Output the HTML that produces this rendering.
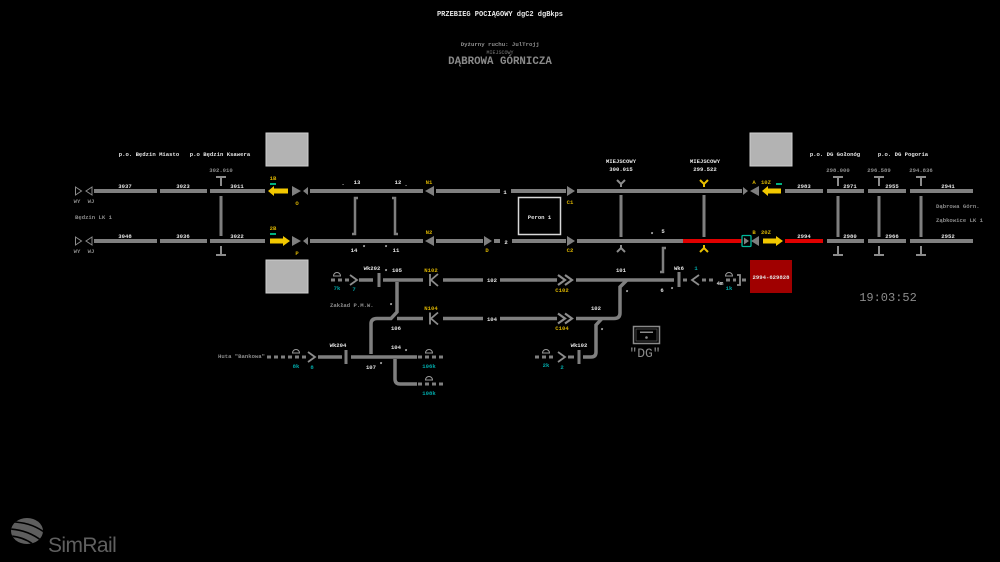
<!DOCTYPE html>
<html><head><meta charset="utf-8"><style>
html,body{margin:0;padding:0;background:#000;width:1000px;height:562px;overflow:hidden}
svg{display:block}
text{font-family:"Liberation Mono",monospace;font-weight:bold}
.w{fill:#e4e4e4;font-size:5.6px}
.g{fill:#8c8c8c;font-size:5.6px}
.y{fill:#d6b000;font-size:5.6px}
.t{fill:#00a8a8;font-size:5.6px}
</style></head><body>
<svg width="1000" height="562" viewBox="0 0 1000 562" xmlns="http://www.w3.org/2000/svg">
<rect width="1000" height="562" fill="#000"/>
<g text-anchor="middle">
<text x="500" y="16" fill="#e8e8e8" style="font-size:7px">PRZEBIEG POCIĄGOWY dgC2 dgBkps</text>
<text x="500" y="46" fill="#909090" style="font-size:5.7px">Dyżurny ruchu: JulTrojj</text>
<text x="500" y="54" fill="#7a7a7a" style="font-size:5px;font-weight:normal">MIEJSCOWY</text>
<text x="500" y="64" fill="#8a8a8a" style="font-size:10.8px">DĄBROWA GÓRNICZA</text>
</g>

<!-- gray boxes -->
<rect x="266" y="133" width="42" height="33" fill="#b3b3b3" stroke="#cfcfcf" stroke-width="1"/>
<rect x="266" y="260" width="42" height="33" fill="#b3b3b3" stroke="#cfcfcf" stroke-width="1"/>
<rect x="750" y="133" width="42" height="33" fill="#b3b3b3" stroke="#cfcfcf" stroke-width="1"/>
<rect x="750" y="260" width="42" height="33" fill="#a00000"/>
<text x="771" y="279" text-anchor="middle" class="w">2994-629828</text>

<g fill="#7f7f7f">
<rect x="94" y="189" width="63" height="4"/>
<rect x="160" y="189" width="47" height="4"/>
<rect x="210" y="189" width="55" height="4"/>
<rect x="310" y="189" width="113" height="4"/>
<rect x="436" y="189" width="64" height="4"/>
<rect x="511" y="189" width="55" height="4"/>
<rect x="577" y="189" width="165" height="4"/>
<rect x="785" y="189" width="38" height="4"/>
<rect x="827" y="189" width="37" height="4"/>
<rect x="868" y="189" width="38" height="4"/>
<rect x="910" y="189" width="63" height="4"/>
<rect x="94" y="239" width="63" height="4"/>
<rect x="160" y="239" width="47" height="4"/>
<rect x="210" y="239" width="55" height="4"/>
<rect x="310" y="239" width="113" height="4"/>
<rect x="436" y="239" width="47" height="4"/>
<rect x="494" y="239" width="6" height="4"/>
<rect x="512" y="239" width="54" height="4"/>
<rect x="577" y="239" width="106" height="4"/>
<rect x="827" y="239" width="37" height="4"/>
<rect x="868" y="239" width="38" height="4"/>
<rect x="910" y="239" width="63" height="4"/>
<polygon points="292,186 292,196 301,191"/>
<polygon points="308,187 308,195 303,191"/>
<polygon points="292,236 292,246 301,241"/>
<polygon points="308,237 308,245 303,241"/>
<polygon points="434,186 434,196 425,191"/>
<polygon points="434,236 434,246 425,241"/>
<polygon points="484,236 484,246 492,241"/>
<polygon points="567,186 567,196 575,191"/>
<polygon points="567,236 567,246 575,241"/>
<polygon points="743,187 743,195 748,191"/>
<polygon points="759,186 759,196 750,191"/>
<polygon points="744,237.5 744,244.5 749,241"/>
<polygon points="759,236 759,246 751,241"/>
<rect x="219.5" y="196" width="3" height="40"/>
<rect x="619.5" y="195" width="3" height="42"/>
<rect x="702.5" y="195" width="3" height="42"/>
<rect x="836.5" y="196" width="3" height="41"/>
<rect x="877.5" y="196" width="3" height="41"/>
<rect x="919.5" y="196" width="3" height="41"/>
</g>
<rect x="683" y="239" width="59" height="4" fill="#e00000"/>
<rect x="785" y="239" width="38" height="4" fill="#e00000"/>
<rect x="742" y="235.5" width="9" height="11" fill="none" stroke="#00b89a" stroke-width="1.3" rx="1"/>

<g fill="none" stroke="#8c8c8c" stroke-width="1">
<polygon points="75.5,187 75.5,195 81.5,191"/>
<polygon points="92,187 92,195 86,191"/>
<polygon points="75.5,237 75.5,245 81.5,241"/>
<polygon points="92,237 92,245 86,241"/>
</g>

<g stroke="#8c8c8c" stroke-width="2" fill="none">
<path d="M216,177 H226 M221,177 V186"/>
<path d="M216,255 H226 M221,246 V255"/>
<path d="M833,177 H843 M838,177 V186"/>
<path d="M874,177 H884 M879,177 V186"/>
<path d="M916,177 H926 M921,177 V186"/>
<path d="M833,255 H843 M838,246 V255"/>
<path d="M874,255 H884 M879,246 V255"/>
<path d="M916,255 H926 M921,246 V255"/>
<path d="M617,180 L621,184 L625,180 M621,184 V187"/>
<path d="M617,252 L621,248 L625,252 M621,248 V245"/>
</g>
<g stroke="#e8c000" stroke-width="2" fill="none">
<path d="M700,180 L704,184 L708,180 M704,184 V187"/>
<path d="M700,252 L704,248 L708,252 M704,248 V245"/>
</g>

<g stroke="#7f7f7f" stroke-width="2.5" fill="none">
<path d="M358,198 H355 V234 H352"/>
<path d="M392,198 H395 V234 H398"/>
<path d="M666,248 H663 V272 H660"/>
</g>

<g fill="#f2c800">
<polygon points="268,191 274,186 274,188.5 288,188.5 288,193.5 274,193.5 274,196"/>
<polygon points="270,238.5 283,238.5 283,236 290,241 283,246 283,243.5 270,243.5"/>
<polygon points="762,191 768,186 768,188.5 781,188.5 781,193.5 768,193.5 768,196"/>
<polygon points="763,238.5 776,238.5 776,236 783,241 776,246 776,243.5 763,243.5"/>
</g>
<g fill="#00b080">
<rect x="270" y="183" width="6" height="2"/>
<rect x="270" y="233" width="6" height="2"/>
<rect x="776" y="183" width="6" height="2"/>
</g>

<rect x="518.5" y="197.5" width="42" height="37" fill="none" stroke="#d8d8d8" stroke-width="1.5"/>
<text x="539.5" y="219" text-anchor="middle" class="w">Peron 1</text>

<g stroke="#7f7f7f" stroke-width="3.5" fill="none">
<path d="M383,280 H423"/>
<path d="M443,280 H483"/>
<path d="M500,280 H557"/>
<path d="M576,280 H674"/>
<path d="M397,282 V312 L391,318.5 H377 Q371,318.5 371,324 V354"/>
<path d="M397,318.5 H423"/>
<path d="M443,318.5 H483"/>
<path d="M500,318.5 H557"/>
<path d="M576,318.5 H614 Q620,318.5 620,313 V287 L627,280"/>
<path d="M583,357 H591 Q596,357 596,352 V325 L602,318.5"/>
<path d="M318,357 H342"/>
<path d="M351,357 H417"/>
<path d="M395,359 V379 Q395,384 400,384 H417"/>
<path d="M359,280 H373"/>
</g>
<g stroke="#7f7f7f" stroke-width="3" fill="none" stroke-dasharray="4,3">
<path d="M331,280 H349"/>
<path d="M267,357 H307"/>
<path d="M418,357 H444"/>
<path d="M418,384 H444"/>
<path d="M535,357 H556"/>
<path d="M683,280 H690"/>
<path d="M702,280 H716"/>
<path d="M726,280 H736"/>
<path d="M742,280 H746"/>
</g>
<g fill="#7f7f7f">
<rect x="377.5" y="273" width="3" height="14"/>
<rect x="344.5" y="350" width="3" height="14"/>
<rect x="577.5" y="350" width="3" height="14"/>
<rect x="677.5" y="272" width="3" height="15"/>
<rect x="568" y="355.5" width="6" height="3"/>
</g>
<g stroke="#8c8c8c" stroke-width="1.8" fill="none">
<path d="M350,275 L357,280 L350,285"/>
<path d="M308,352 L315,357 L308,362"/>
<path d="M558,352 L565,357 L558,362"/>
<path d="M699,275 L692,280 L699,285"/>
<path d="M430,274 V286 M438,274 L431,280 L438,286"/>
<path d="M430,312.5 V324.5 M438,312.5 L431,318.5 L438,324.5"/>
<path d="M558,275 L565,280 L558,285 M565,275 L572,280 L565,285" stroke-width="2.2"/>
<path d="M558,313.5 L565,318.5 L558,323.5 M565,313.5 L572,318.5 L565,323.5" stroke-width="2.2"/>
<path d="M737,275 H740 V285 H737"/>
</g>
<g stroke="#9a9a9a" stroke-width="1" fill="none">
<path d="M333.5,276 A3.5,3.5 0 0 1 340.5,276 Z"/>
<path d="M292.5,353 A3.5,3.5 0 0 1 299.5,353 Z"/>
<path d="M425.5,353 A3.5,3.5 0 0 1 432.5,353 Z"/>
<path d="M425.5,380 A3.5,3.5 0 0 1 432.5,380 Z"/>
<path d="M542.5,353 A3.5,3.5 0 0 1 549.5,353 Z"/>
<path d="M725.5,276 A3.5,3.5 0 0 1 732.5,276 Z"/>
</g>

<rect x="633.5" y="326.5" width="26" height="17" fill="none" stroke="#8a8a8a" stroke-width="1.5"/>
<rect x="636" y="329" width="21" height="12" fill="none" stroke="#555" stroke-width="0.8"/>
<rect x="640" y="331.5" width="13" height="1.5" fill="#8a8a8a"/>
<circle cx="646.5" cy="337.5" r="1.3" fill="#8a8a8a"/>
<text x="645" y="357" text-anchor="middle" fill="#8a8a8a" style="font-size:13px;font-weight:normal">"DG"</text>

<g text-anchor="middle">
<text x="149" y="156" class="w">p.o. Będzin Miasto</text>
<text x="220" y="156" class="w">p.o Będzin Ksawera</text>
<text x="221" y="172" class="g">302.010</text>
<text x="125" y="188" class="w">3037</text>
<text x="183" y="188" class="w">3023</text>
<text x="237" y="188" class="w">3011</text>
<text x="125" y="238" class="w">3048</text>
<text x="183" y="238" class="w">3036</text>
<text x="237" y="238" class="w">3022</text>
<text x="77" y="203" class="g">WY</text>
<text x="91" y="203" class="g">WJ</text>
<text x="77" y="253" class="g">WY</text>
<text x="91" y="253" class="g">WJ</text>
<text x="273" y="180" class="y">1B</text>
<text x="297" y="205" class="y">O</text>
<text x="273" y="230" class="y">2B</text>
<text x="297" y="255" class="y">P</text>

<text x="357" y="184" class="w">13</text>
<text x="343" y="185" class="w">.</text>
<text x="398" y="184" class="w">12</text>
<text x="406" y="186" class="w">.</text>
<text x="429" y="184" class="y">N1</text>
<text x="505" y="194" class="w">1</text>
<text x="570" y="204" class="y">C1</text>
<text x="429" y="234" class="y">N2</text>
<text x="354" y="252" class="w">14</text>
<text x="364" y="249" class="w">*</text>
<text x="386" y="249" class="w">*</text>
<text x="396" y="252" class="w">11</text>
<text x="487" y="252" class="y">D</text>
<text x="506" y="244" class="w">2</text>
<text x="570" y="252" class="y">C2</text>

<text x="621" y="163" class="w">MIEJSCOWY</text>
<text x="621" y="171" class="w">300.015</text>
<text x="705" y="163" class="w">MIEJSCOWY</text>
<text x="705" y="171" class="w">299.522</text>
<text x="754" y="184" class="y">A</text>
<text x="766" y="184" class="y">10Z</text>
<text x="754" y="234" class="y">B</text>
<text x="766" y="234" class="y">20Z</text>
<text x="652" y="236" class="w">*</text>
<text x="663" y="233" class="w">5</text>

<text x="835" y="156" class="w">p.o. DG Gołonóg</text>
<text x="903" y="156" class="w">p.o. DG Pogoria</text>
<text x="838" y="172" class="g">298.000</text>
<text x="879" y="172" class="g">296.589</text>
<text x="921" y="172" class="g">294.836</text>
<text x="804" y="188" class="w">2983</text>
<text x="850" y="188" class="w">2971</text>
<text x="892" y="188" class="w">2955</text>
<text x="948" y="188" class="w">2941</text>
<text x="804" y="238" class="w">2994</text>
<text x="850" y="238" class="w">2980</text>
<text x="892" y="238" class="w">2966</text>
<text x="948" y="238" class="w">2952</text>

<text x="372" y="270" class="w">Wk202</text>
<text x="386" y="273" class="w">*</text>
<text x="397" y="272" class="w">105</text>
<text x="431" y="272" class="y">N102</text>
<text x="337" y="290" class="t">7k</text>
<text x="354" y="291" class="t">7</text>
<text x="391" y="307" class="w">*</text>
<text x="431" y="310" class="y">N104</text>
<text x="396" y="330" class="w">106</text>
<text x="492" y="282" class="w">102</text>
<text x="492" y="321" class="w">104</text>
<text x="562" y="292" class="y">C102</text>
<text x="562" y="330" class="y">C104</text>
<text x="621" y="272" class="w">101</text>
<text x="596" y="310" class="w">102</text>
<text x="679" y="270" class="w">Wk6</text>
<text x="696" y="270" class="t">1</text>
<text x="662" y="292" class="w">6</text>
<text x="672" y="291" class="w">*</text>
<text x="627" y="294" class="w">*</text>
<text x="720" y="285" class="w">4m</text>
<text x="729" y="290" class="t">1k</text>
<text x="296" y="368" class="t">8k</text>
<text x="312" y="369" class="t">8</text>
<text x="338" y="347" class="w">Wk204</text>
<text x="396" y="349" class="w">104</text>
<text x="406" y="353" class="w">*</text>
<text x="371" y="369" class="w">107</text>
<text x="381" y="366" class="w">*</text>
<text x="429" y="368" class="t">106k</text>
<text x="429" y="395" class="t">108k</text>
<text x="579" y="347" class="w">Wk102</text>
<text x="546" y="367" class="t">2k</text>
<text x="562" y="369" class="t">2</text>
<text x="602" y="332" class="w">*</text>
<text x="888" y="301" fill="#8c8c8c" style="font-size:12px;font-weight:normal">19:03:52</text>
</g>
<g>
<text x="75" y="219" class="g">Będzin LK 1</text>
<text x="936" y="208" class="g">Dąbrowa Górn.</text>
<text x="936" y="222" class="g">Ząbkowice LK 1</text>
<text x="330" y="307" class="g">Zakład P.M.W.</text>
<text x="218" y="358" class="g">Huta "Bankowa"</text>
</g>

<!-- SimRail logo -->
<defs><clipPath id="lc"><ellipse cx="27" cy="531" rx="16" ry="13"/></clipPath></defs>
<g clip-path="url(#lc)">
<rect x="10" y="517" width="34" height="28" fill="#5e5e5e"/>
<g stroke="#000" stroke-width="1.6" fill="none">
<path d="M12,522 Q30,522 44,532"/>
<path d="M10,529 Q28,530 42,541"/>
<path d="M10,536 Q24,537 34,545"/>
</g>
</g>
<text x="48" y="552" fill="#606060" style="font-family:'Liberation Sans',sans-serif;font-size:21px;font-weight:normal;letter-spacing:-0.6px">SimRail</text>
</svg>
</body></html>
